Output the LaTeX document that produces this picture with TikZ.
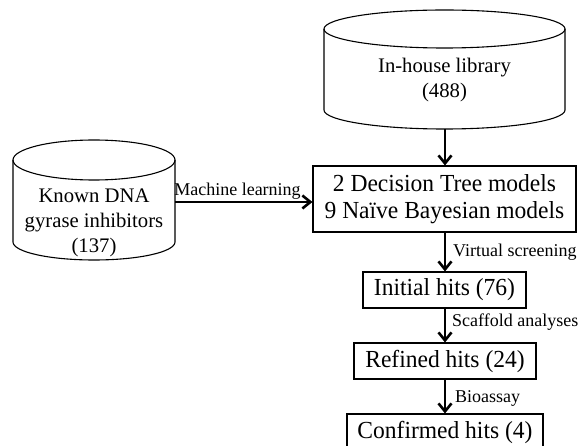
\documentclass[tikz,border=0pt]{standalone}
\usepackage{fontspec}
\setmainfont{Liberation Serif}
\newfontfamily\boxfont[FakeStretch=0.96]{Liberation Serif}
\usetikzlibrary{arrows.meta}
\begin{document}
\begin{tikzpicture}[x=1pt,y=-1pt,
  box/.style={draw,line width=1.1pt,inner sep=0pt,align=center,font=\boxfont\fontsize{24.5}{27}\selectfont},
  lbl/.style={inner sep=0pt,font=\fontsize{18}{20}\selectfont},
  cyltext/.style={inner sep=0pt,align=center,font=\fontsize{20.7}{25}\selectfont},
  cyl/.style={draw,line width=1.1pt},
  flow/.style={line width=2.8pt,-{Straight Barb[length=8pt,width=13pt,line width=2.6pt]}}]
\useasboundingbox (0,0) rectangle (579,446);

% In-house library cylinder
\draw[cyl] (324,29) -- (324,110) arc[start angle=180,end angle=360,x radius=120.5pt,y radius=19pt] -- (565,29);
\draw[cyl] (444.5,29) ellipse[x radius=120.5pt,y radius=19pt];
\node[cyltext] (lib) at (444.5,80) {In-house library\\(488)};
\coordinate (libbot) at (445,129);

% Known DNA gyrase inhibitors cylinder
\draw[cyl] (13,160) -- (13,242) arc[start angle=180,end angle=360,x radius=81pt,y radius=18pt] -- (175,160);
\draw[cyl] (94,160) ellipse[x radius=81pt,y radius=20pt];
\node[cyltext] (known) at (94,223) {Known DNA\\gyrase inhibitors\\(137)};
\coordinate (mls) at (175,202);

% Boxes
\node[box,minimum width=263pt,minimum height=66pt] (dt) at (444.5,199) {2 Decision Tree models\\9 Naïve Bayesian models};
\node[box,minimum width=163pt,minimum height=36pt] (ih) at (444.5,290) {Initial hits (76)};
\node[box,minimum width=182pt,minimum height=36pt] (rh) at (445,361) {Refined hits (24)};
\node[box,minimum width=196pt,minimum height=36pt] (ch) at (445,432) {Confirmed hits (4)};

% Connectors
\draw[flow] (libbot) -- (dt.north -| libbot);
\draw[flow] (mls) -- (dt.west |- mls);
\draw[flow] (dt.south -| libbot) -- (ih.north -| libbot);
\draw[flow] (ih.south -| libbot) -- (rh.north -| libbot);
\draw[flow] (rh.south -| libbot) -- (ch.north -| libbot);

% Labels
\node[lbl,anchor=base] (ml) at (237.5,196) {Machine learning};
\node[lbl,anchor=west] (vs) at (453,252) {Virtual screening};
\node[lbl,anchor=west] (sa) at (452,322) {Scaffold analyses};
\node[lbl,anchor=west] (bio) at (455,398) {Bioassay};
\end{tikzpicture}
\end{document}
